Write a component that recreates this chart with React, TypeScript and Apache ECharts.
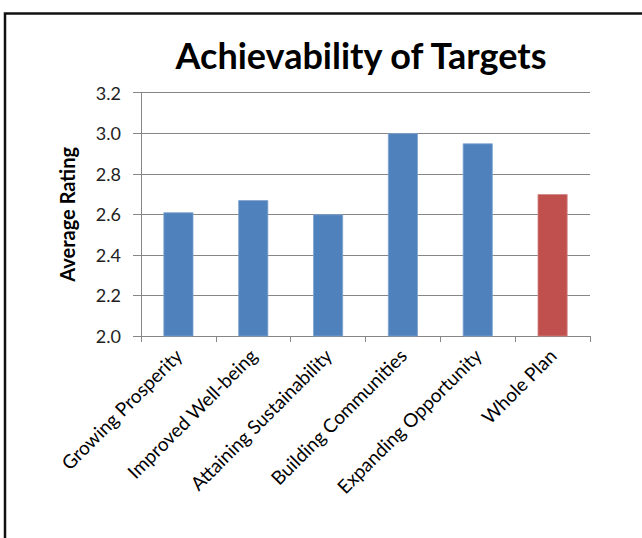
import React, { useEffect, useRef } from "react";
import * as echarts from "echarts";

const categories = [
  "Growing Prosperity",
  "Improved Well-being",
  "Attaining Sustainability",
  "Building Communities",
  "Expanding Opportunity",
  "Whole Plan",
];
const values = [2.61, 2.67, 2.6, 3.0, 2.95, 2.7];
const barColors = ["#4F81BD", "#4F81BD", "#4F81BD", "#4F81BD", "#4F81BD", "#C0504D"];
const titleText = "Achievability of Targets";
const yAxisTitle = "Average Rating";

export default function App() {
  const ref = useRef<HTMLDivElement>(null);
  useEffect(() => {
    if (!ref.current) return;
    const chart = echarts.init(ref.current, undefined, { renderer: "svg" });
    chart.setOption({
      animation: false,
      backgroundColor: "#ffffff",
      title: {
        text: titleText,
        left: 356,
        top: 32,
        textAlign: "center",
        textStyle: {
          fontFamily: "Lato",
          fontWeight: "bold",
          fontSize: 36,
          color: "#000000",
        },
      },
      graphic: [
        {
          type: "rect",
          shape: { x: 5, y: 13.5, width: 700, height: 600 },
          style: { fill: "none", stroke: "#111111", lineWidth: 2.5 },
          silent: true,
        },
      ],
      grid: { left: 141, right: 52, top: 92.7, bottom: 202, containLabel: false },
      xAxis: {
        type: "category",
        data: categories,
        axisLine: { show: true, lineStyle: { color: "#868686", width: 1 } },
        axisTick: { show: true, length: 6, lineStyle: { color: "#868686" } },
        axisLabel: {
          rotate: 45,
          interval: 0,
          margin: 16,
          fontFamily: "Lato",
          fontSize: 19,
          color: "#000000",
        },
      },
      yAxis: {
        type: "value",
        min: 2.0,
        max: 3.2,
        interval: 0.2,
        name: yAxisTitle,
        nameLocation: "middle",
        nameGap: 64,
        nameRotate: 90,
        nameTextStyle: {
          fontFamily: "Lato",
          fontWeight: "bold",
          fontSize: 20,
          color: "#000000",
        },
        axisLine: { show: true, lineStyle: { color: "#868686", width: 1 } },
        axisTick: { show: true, length: 8, lineStyle: { color: "#868686" } },
        splitLine: { show: true, lineStyle: { color: "#868686", width: 1 } },
        axisLabel: {
          margin: 20,
          fontFamily: "Lato",
          fontSize: 18,
          color: "#222222",
          formatter: (v: number) => v.toFixed(1),
        },
      },
      series: [
        {
          type: "bar",
          data: values.map((v, i) => ({
            value: v,
            itemStyle: { color: barColors[i], borderColor: i === 5 ? "#D08583" : "#7FA3D1", borderWidth: 0.8 },
          })),
          barWidth: 30,
        },
      ],
    });
    return () => chart.dispose();
  }, []);
  return (
    <div
      ref={ref}
      style={{ position: "fixed", left: 0, top: 0, width: 642, height: 538 }}
    />
  );
}
